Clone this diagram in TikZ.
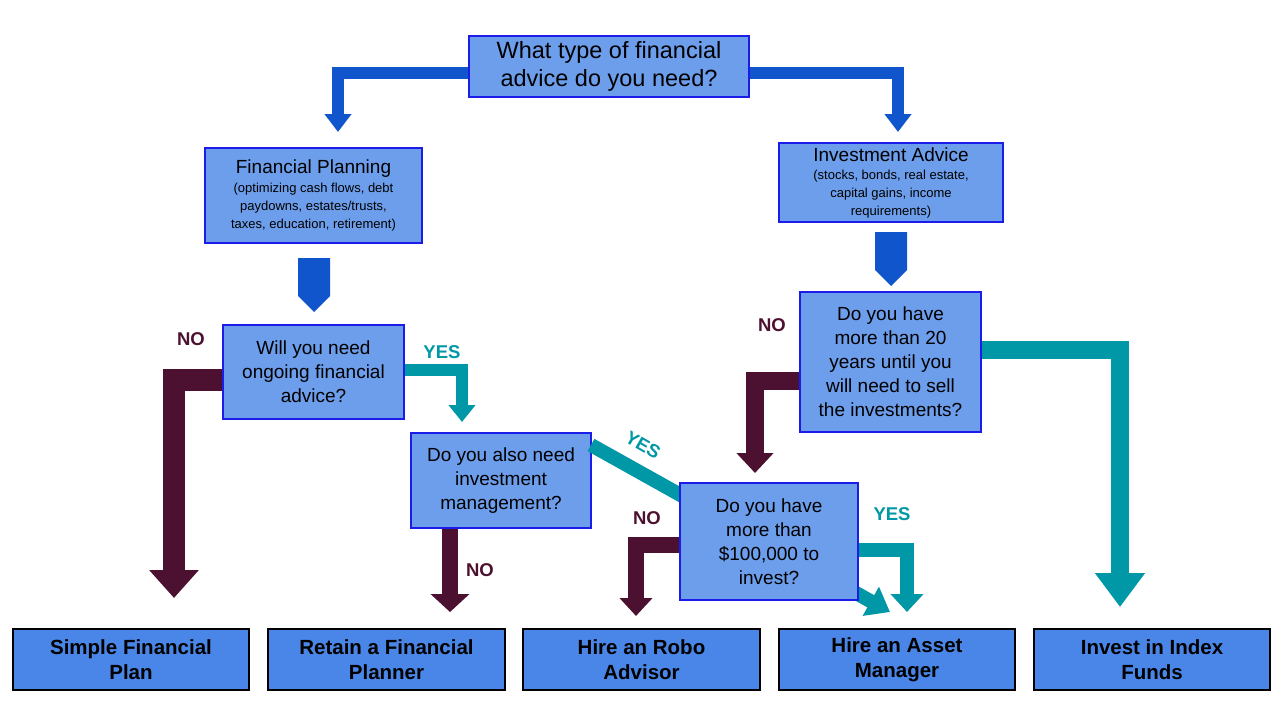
\documentclass[tikz,border=0pt]{standalone}
\usepackage{fontspec}
\setmainfont{Liberation Sans}
\usetikzlibrary{arrows.meta}
\definecolor{qfill}{HTML}{6D9EEB}
\definecolor{qedge}{HTML}{1C1CE8}
\definecolor{bfill}{HTML}{4A86E8}
\definecolor{barrow}{HTML}{1155CC}
\definecolor{maroon}{HTML}{4C1130}
\definecolor{teal}{HTML}{0097A7}
\tikzset{
  qbox/.style={draw=qedge,line width=1.2pt,fill=qfill,align=center,inner sep=0pt},
  endbox/.style={draw=black,line width=1.2pt,fill=bfill,align=center,inner sep=0pt,font=\bfseries\fontsize{20.5}{25}\selectfont},
  lbl/.style={font=\bfseries\fontsize{18.5}{20}\selectfont},
  qtext/.style={font=\fontsize{19}{24}\selectfont},
  subtext/.style={font=\fontsize{13}{18}\selectfont},
}
\begin{document}
\begin{tikzpicture}[x=1pt,y=-1pt]
\useasboundingbox (0,0) rectangle (1285,704);
% boxes
\node[qbox,minimum width=280,minimum height=61,font=\fontsize{23.5}{28}\selectfont] (top) at (609,66.5) {What type of financial\\advice do you need?};
\node[qbox,subtext,minimum width=217,minimum height=95] (fp) at (313.5,195.5) {{\fontsize{19}{21}\selectfont Financial Planning}\\[1pt](optimizing cash flows, debt\\paydowns, estates/trusts,\\taxes, education, retirement)};
\node[qbox,subtext,minimum width=224,minimum height=79] (ia) at (891,182.5) {{\fontsize{19}{21}\selectfont Investment Advice}\\[0pt](stocks, bonds, real estate,\\capital gains, income\\requirements)};
% connectors behind boxes
\draw[line width=12pt,barrow,-{Triangle[width=26pt,length=18pt]}] ([yshift=-6pt]top.west) -| (338,132);
\draw[line width=12pt,barrow,-{Triangle[width=26pt,length=18pt]}] ([yshift=-6pt]top.east) -| (898,132);
\fill[barrow] (298,258) -- (330,258) -- (330,296) -- (314,312) -- (298,296) -- cycle;
\fill[barrow] (875,232) -- (907,232) -- (907,270) -- (891,286) -- (875,270) -- cycle;
\node[qbox,qtext,minimum width=181,minimum height=94] (q1) at (313.5,372) {Will you need\\ongoing financial\\advice?};
\node[qbox,qtext,minimum width=180,minimum height=95] (q2) at (501,480.5) {Do you also need\\investment\\management?};
\node[qbox,qtext,minimum width=181,minimum height=140] (q3) at (890.5,362) {Do you have\\more than 20\\years until you\\will need to sell\\the investments?};
\coordinate (dstart) at (591,445);
\coordinate (dend) at (890,612);
\draw[line width=14pt,teal,-{Triangle[width=32pt,length=22pt]}] (dstart) -- (dend);
\node[qbox,qtext,minimum width=178,minimum height=117] (q4) at (769,541.5) {Do you have\\more than\\\$100,000 to\\invest?};
% end boxes
\node[endbox,minimum width=236,minimum height=61] (e1) at (131,659.5) {Simple Financial\\Plan};
\node[endbox,minimum width=237,minimum height=61] (e2) at (386.5,659.5) {Retain a Financial\\Planner};
\node[endbox,minimum width=237,minimum height=61] (e3) at (641.5,659.5) {Hire an Robo\\Advisor};
\node[endbox,minimum width=236,minimum height=61] (e4) at (897,659.5) {Hire an Asset\\Manager};
\node[endbox,minimum width=236,minimum height=61] (e5) at (1152,659.5) {Invest in Index\\Funds};
% decision arrows
\draw[line width=22pt,maroon,-{Triangle[width=48pt,length=28pt]}] ([yshift=-8pt]q1.west) -| (174,598);
\draw[line width=12pt,teal,-{Triangle[width=26pt,length=17pt]}] ([yshift=2pt]q1.east) -| (462,422);
\draw[line width=16pt,maroon,-{Triangle[width=38pt,length=18pt]}] ([xshift=-51pt]q2.south) -- (450,612);
\draw[line width=16pt,maroon,-{Triangle[width=32pt,length=18pt]}] ([yshift=-3pt]q4.west) -| (636,616);
\draw[line width=14pt,teal,-{Triangle[width=32pt,length=18pt]}] ([yshift=-8pt]q4.east) -| (907,612);
\draw[line width=18pt,maroon,-{Triangle[width=36pt,length=20pt]}] ([yshift=-19pt]q3.west) -| (755,473);
\draw[line width=18pt,teal,-{Triangle[width=48pt,length=34pt]}] ([yshift=12pt]q3.east) -| (1120,607);
% labels
\node[lbl,teal,rotate=-30,inner sep=1pt] (y2) at (643,445) {YES};
\node[lbl,maroon] (n1) at (191,339) {NO};
\node[lbl,teal] (y1) at (442,352) {YES};
\node[lbl,maroon] (n2) at (480,570) {NO};
\node[lbl,maroon] (n3) at (647,518) {NO};
\node[lbl,teal] (y3) at (892,514) {YES};
\node[lbl,maroon] (n4) at (772,325) {NO};
\node[lbl,teal] (y4) at (1058,352) {YES};
\end{tikzpicture}
\end{document}
